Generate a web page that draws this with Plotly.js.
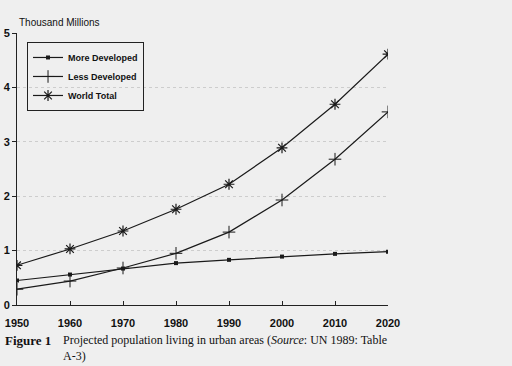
<!DOCTYPE html>
<html><head><meta charset="utf-8">
<script src="https://cdn.plot.ly/plotly-3.0.1.min.js"></script>
<style>html,body{margin:0;padding:0;background:#efefef;}#chart{width:512px;height:366px;}</style>
</head><body><div id="chart"></div>
<script>
const years = [1950, 1960, 1970, 1980, 1990, 2000, 2010, 2020];
const moreDeveloped = [0.45, 0.56, 0.67, 0.77, 0.83, 0.89, 0.94, 0.98];
const lessDeveloped = [0.29, 0.44, 0.68, 0.95, 1.34, 1.93, 2.68, 3.55];
const worldTotal = [0.73, 1.03, 1.36, 1.76, 2.22, 2.89, 3.69, 4.61];
const seriesNames = ['More Developed', 'Less Developed', 'World Total'];
const yTicks = [0, 1, 2, 3, 4, 5];

const lineStyle = {color: '#1a1a1a', width: 1.2};
const traces = [
  {x: years, y: moreDeveloped, name: seriesNames[0], mode: 'lines+markers', line: lineStyle,
   marker: {symbol: 'square', size: 4, color: '#1a1a1a'}},
  {x: years, y: lessDeveloped, name: seriesNames[1], mode: 'lines+markers', line: lineStyle,
   marker: {symbol: 'cross-thin', size: 9, color: '#1a1a1a', line: {color: '#1a1a1a', width: 1}}},
  {x: years, y: worldTotal, name: seriesNames[2], mode: 'lines+markers', line: lineStyle,
   marker: {symbol: 'asterisk', size: 9, color: '#1a1a1a', line: {color: '#1a1a1a', width: 1.2}}}
];

const layout = {
  width: 512, height: 366,
  paper_bgcolor: '#efefef', plot_bgcolor: '#efefef',
  margin: {l: 17, r: 124, t: 33, b: 61},
  showlegend: true,
  legend: {x: 0.027, y: 0.967, xanchor: 'left', yanchor: 'top',
    bgcolor: 'rgba(0,0,0,0)', bordercolor: '#222', borderwidth: 1,
    font: {family: 'Liberation Sans Narrow, Liberation Sans, Arial, sans-serif', size: 9, color: '#111', weight: 'bold'},
    tracegroupgap: 0},
  xaxis: {range: [1950, 2020], tickvals: years, ticktext: years.map(String),
    showgrid: false, zeroline: false, showline: true, linecolor: '#222', linewidth: 1,
    ticks: 'inside', ticklen: 4, tickcolor: '#222', ticklabelstandoff: 8,
    tickfont: {family: 'Liberation Sans, Arial, sans-serif', size: 11, color: '#111', weight: 'bold'}},
  yaxis: {range: [0, 5], tickvals: yTicks, showgrid: true, gridcolor: '#cdcdcd', griddash: 'dot', gridwidth: 1,
    zeroline: false, showline: true, linecolor: '#222', linewidth: 1,
    ticks: 'outside', ticklen: 4, tickcolor: '#222',
    tickfont: {family: 'Liberation Sans, Arial, sans-serif', size: 11, color: '#111', weight: 'bold'}},
  annotations: [
    {text: 'Thousand Millions', xref: 'paper', yref: 'paper', x: 0.0, y: 1.012, xanchor: 'left', yanchor: 'bottom',
     showarrow: false, font: {family: 'Liberation Sans, Arial, sans-serif', size: 10, color: '#111'}},
    {text: '<b>Figure 1</b>', xref: 'paper', yref: 'paper', x: -0.037, y: -0.095, xanchor: 'left', yanchor: 'top',
     showarrow: false, font: {family: 'Liberation Serif, serif', size: 13, color: '#111'}},
    {text: 'Projected population living in urban areas (<i>Source</i>: UN 1989: Table<br>A-3)',
     xref: 'paper', yref: 'paper', x: 0.118, y: -0.095, xanchor: 'left', yanchor: 'top', align: 'left',
     showarrow: false, font: {family: 'Liberation Serif, serif', size: 12, color: '#111'}}
  ]
};
Plotly.newPlot('chart', traces, layout, {displayModeBar: false, staticPlot: true});
</script></body></html>
